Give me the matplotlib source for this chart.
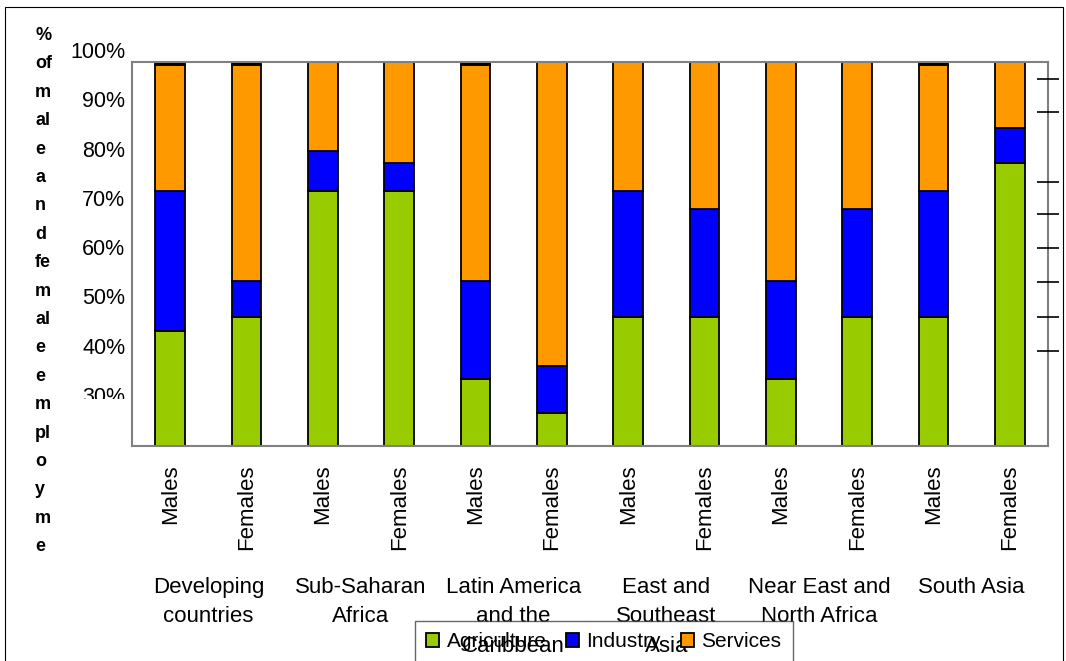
import matplotlib
matplotlib.use("Agg")
import matplotlib.pyplot as plt
import numpy as np
from matplotlib.patches import Rectangle
from matplotlib.transforms import Bbox, TransformedBbox

plt.rcParams['font.family'] = ['Liberation Sans', 'DejaVu Sans']

# data (percent of employment)
bar_labels = ['Males', 'Females'] * 6
regions = ['Developing\ncountries', 'Sub-Saharan\nAfrica', 'Latin America\nand the\nCaribbean',
           'East and\nSoutheast\nAsia', 'Near East and\nNorth Africa', 'South Asia']
agriculture = [30.0, 33.7, 66.4, 66.4, 17.4, 8.7, 33.7, 33.7, 17.4, 33.7, 33.7, 73.7]
industry = [36.5, 9.3, 10.5, 7.4, 25.6, 12.2, 32.8, 28.0, 25.6, 28.0, 32.8, 9.2]
services = [32.7, 56.2, 23.1, 26.2, 56.2, 79.1, 33.5, 38.3, 57.0, 38.3, 32.7, 17.1]
other = [0.8, 0.8, 0.0, 0.0, 0.8, 0.0, 0.0, 0.0, 0.0, 0.0, 0.8, 0.0]

# left labels (misplaced in the original, kept as drawn)
pct_ticks = [30, 40, 50, 60, 70, 80, 90, 100]
# stray tick marks on the right axis
right_ticks = [95.6, 87.1, 68.8, 60.3, 51.5, 42.8, 33.7, 24.8]
right_tick_colors = ['#808080', '#202020', '#202020', '#808080', '#202020', '#808080', '#808080', '#808080']

ylabel_chunks = ['%', 'of', 'm', 'al', 'e', 'a', 'n', 'd', 'fe', 'm', 'al', 'e',
                 'e', 'm', 'pl', 'o', 'y', 'm', 'e']

W, H = 1066, 661
fig = plt.figure(figsize=(W / 100, H / 100), dpi=100)

ax = fig.add_axes([132 / W, 1 - 446 / H, (1048 - 132) / W, (446 - 62) / H])
x = np.arange(len(agriculture))
bw = 0.39
agri = np.array(agriculture)
ind = np.array(industry)
serv = np.array(services)
b1 = ax.bar(x, agri, bw, color='#99CC00', edgecolor='black', linewidth=1.3, label='Agriculture')
b2 = ax.bar(x, ind, bw, bottom=agri, color='#0000FF', edgecolor='black', linewidth=1.3, label='Industry')
b3 = ax.bar(x, serv, bw, bottom=agri + ind, color='#FF9900', edgecolor='black', linewidth=1.3, label='Services')
ax.bar(x, other, bw, bottom=agri + ind + serv, color='black', edgecolor='black', linewidth=1.3)

ax.set_xlim(-0.5, len(x) - 0.5)
ax.set_ylim(0, 100)
ax.set_xticks(x)
ax.set_xticklabels(bar_labels, rotation=90, fontsize=16)
ax.tick_params(axis='x', length=0, pad=13)
ax.set_yticks([])
for s in ax.spines.values():
    s.set_color('#808080')
    s.set_linewidth(1.5)

# region names under each pair of bars
for i, r in enumerate(regions):
    ax.text(2 * i + 0.5, -0.34, r, transform=ax.get_xaxis_transform(), ha='center', va='top',
            fontsize=16, linespacing=1.55, zorder=10)

# right axis with its stray ticks
ax2 = ax.twinx()
ax2.set_ylim(0, 100)
ax2.set_yticks(right_ticks)
ax2.set_yticklabels([])
ax2.tick_params(axis='y', direction='inout', length=16.5, width=1.2)
for t, c in zip(ax2.yaxis.get_major_ticks(), right_tick_colors):
    t.tick2line.set_color(c)
ax2.spines[:].set_visible(False)

# percent labels on the left
lab = fig.add_axes([128 / W, 1 - 543 / H, 0.001, 493 / H])
lab.set_ylim(0, 100)
lab.set_yticks(pct_ticks)
lab.set_yticklabels([f'{p}%' for p in pct_ticks], fontsize=15.5)
lab.tick_params(axis='y', length=0, pad=2)
lab.set_xticks([])
lab.spines[:].set_visible(False)
lab.patch.set_visible(False)
clip = TransformedBbox(Bbox([[0, 1 - 399 / H], [1, 1]]), fig.transFigure)
for t in lab.get_yticklabels():
    t.set_clip_on(True)
    t.set_clip_box(clip)

# y label written one chunk per line
for i, s in enumerate(ylabel_chunks):
    fig.text(35 / W, 1 - (40 + i * 28.4) / H, s, fontsize=13, fontweight='bold',
             ha='left', va='baseline')

leg = fig.legend(handles=[b1, b2, b3], loc='upper left', bbox_to_anchor=(415 / W, 1 - 621 / H),
                 borderaxespad=0, ncol=3, fontsize=15, frameon=True, fancybox=False,
                 handlelength=0.62, handleheight=0.62, handletextpad=0.35, columnspacing=0.95,
                 borderpad=0.55)
leg.get_frame().set_edgecolor('#404040')
leg.get_frame().set_facecolor('none')
leg.get_frame().set_linewidth(1.0)

# outer chart border
fig.add_artist(Rectangle((5 / W, -0.05), (1063 - 5) / W, 1.05 - 7 / H, transform=fig.transFigure,
                         fill=False, edgecolor='black', linewidth=0.8))

fig.savefig('out.png', dpi=100)
